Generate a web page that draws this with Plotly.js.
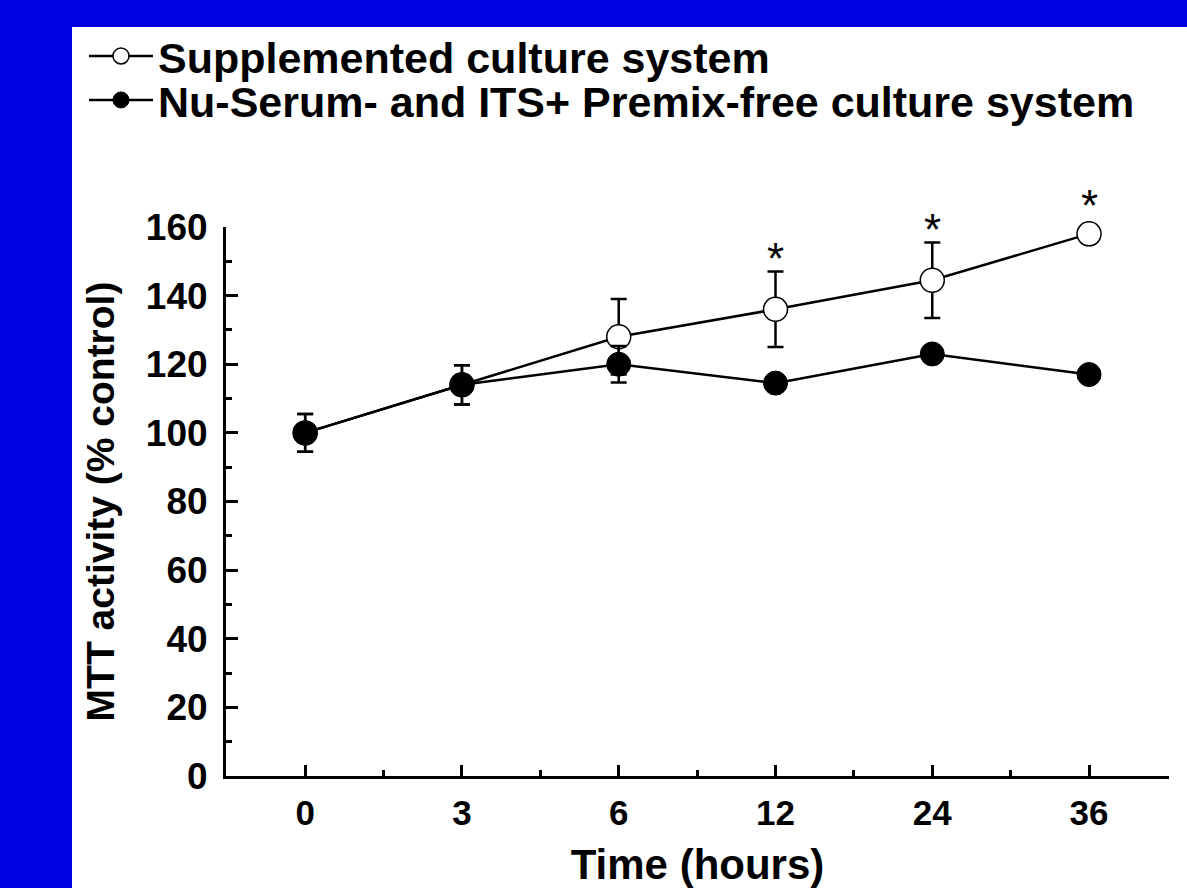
<!DOCTYPE html>
<html>
<head>
<meta charset="utf-8">
<script src="https://cdn.plot.ly/plotly-3.0.1.min.js"></script>
<style>
  html, body { margin: 0; padding: 0; background: #0000e0; width: 1187px; height: 888px; overflow: hidden; }
  #chart { position: absolute; left: 72px; top: 27px; width: 1115px; height: 861px; }
</style>
</head>
<body>
<div id="chart"></div>
<script>
// ---- data ----
var timeLabels = ['0', '3', '6', '12', '24', '36'];
var supplemented = [100, 114, 128, 136, 144.5, 158];
var supplementedErr = [5.5, 5.7, 11, 11, 11, 0];
var premixFree = [100, 114, 120, 114.5, 123, 117];
var premixFreeErr = [5.5, 5.7, 5.3, 2, 2, 2];
var significance = ['', '', '', '*', '*', '*'];
var seriesNames = ['Supplemented culture system', 'Nu-Serum- and ITS+ Premix-free culture system'];
var yTicks = [0, 20, 40, 60, 80, 100, 120, 140, 160];

var xIdx = timeLabels.map(function (_, i) { return i; });
var minorX = xIdx.slice(0, -1).map(function (i) { return i + 0.5; });

var FONT = '"Liberation Sans", Arial, sans-serif';

var traces = [
  {
    x: xIdx, y: supplemented, name: seriesNames[0], type: 'scatter', mode: 'lines+markers',
    line: { color: '#000', width: 2.5 },
    marker: { symbol: 'circle', size: 24, color: '#fff', line: { color: '#000', width: 1.5 } },
    error_y: { type: 'data', array: supplementedErr, visible: true, color: '#000', thickness: 2.5, width: 8 },
    cliponaxis: false, legend: 'legend'
  },
  {
    x: xIdx, y: premixFree, name: seriesNames[1], type: 'scatter', mode: 'lines+markers',
    line: { color: '#000', width: 2.5 },
    marker: { symbol: 'circle', size: 24, color: '#000', line: { color: '#000', width: 1 } },
    error_y: { type: 'data', array: premixFreeErr, visible: true, color: '#000', thickness: 2.5, width: 8 },
    cliponaxis: false, legend: 'legend2'
  }
];

var annotations = [];
significance.forEach(function (s, i) {
  if (!s) return;
  var err = supplementedErr[i];
  annotations.push({
    x: xIdx[i], y: supplemented[i] + err, xref: 'x', yref: 'y',
    text: s, showarrow: false, xanchor: 'center', yanchor: 'middle',
    yshift: err > 0 ? 13 : 28,
    font: { family: FONT, size: 44, color: '#000' }
  });
});

var plotW = 1115 - 154 - 18, plotH = 861 - 200 - 112;
var legendCommon = {
  xref: 'paper', yref: 'paper', xanchor: 'left', yanchor: 'middle',
  bgcolor: 'rgba(0,0,0,0)', borderwidth: 0, itemwidth: 64,
  font: { family: FONT, size: 43, color: '#000', weight: 'bold' },
  itemclick: false, itemdoubleclick: false
};

var layout = {
  width: 1115, height: 861,
  margin: { l: 154, r: 18, t: 200, b: 112, autoexpand: false },
  paper_bgcolor: '#fff', plot_bgcolor: '#fff',
  showlegend: true,
  legend: Object.assign({}, legendCommon, { x: -142 / plotW, y: 1 + (200 - 29) / plotH }),
  legend2: Object.assign({}, legendCommon, { x: -142 / plotW, y: 1 + (200 - 73) / plotH }),
  xaxis: {
    type: 'linear', range: [-0.505, 5.51], automargin: false,
    tickvals: xIdx, ticktext: timeLabels,
    showgrid: false, zeroline: false,
    showline: true, linecolor: '#000', linewidth: 3,
    ticks: 'inside', ticklen: 11, tickwidth: 3, tickcolor: '#000',
    minor: { tickvals: minorX, ticks: 'inside', ticklen: 6, tickwidth: 3, tickcolor: '#000', showgrid: false },
    tickfont: { family: FONT, size: 35, color: '#000', weight: 'bold' },
    ticklabelstandoff: 4,
    title: { text: 'Time (hours)', font: { family: FONT, size: 42, color: '#000', weight: 'bold' }, standoff: 40 }
  },
  yaxis: {
    range: [0, 160], tickvals: yTicks, automargin: false,
    showgrid: false, zeroline: false,
    showline: true, linecolor: '#000', linewidth: 3,
    ticks: 'inside', ticklen: 12, tickwidth: 3, tickcolor: '#000',
    minor: { dtick: 10, tick0: 0, ticks: 'inside', ticklen: 6, tickwidth: 3, tickcolor: '#000', showgrid: false },
    tickfont: { family: FONT, size: 37, color: '#000', weight: 'bold' },
    ticklabelstandoff: 8,
    title: { text: 'MTT activity (% control)', font: { family: FONT, size: 39, color: '#000', weight: 'bold' }, standoff: 20 }
  },
  annotations: annotations
};

Plotly.newPlot('chart', traces, layout, { displayModeBar: false, staticPlot: true });
</script>
</body>
</html>
